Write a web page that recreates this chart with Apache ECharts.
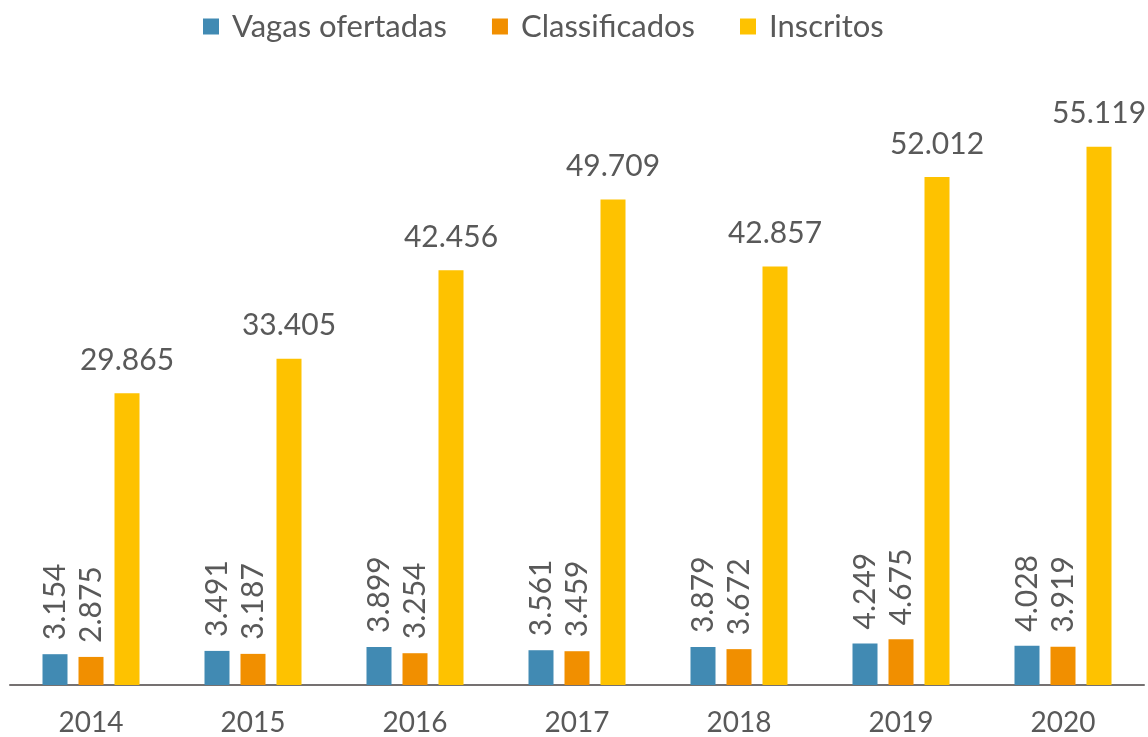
<!DOCTYPE html>
<html>
<head>
<meta charset="utf-8">
<script src="https://cdn.jsdelivr.net/npm/echarts@6/dist/echarts.min.js"></script>
<style>
  html, body { margin: 0; padding: 0; background: #fff; }
  #chart { width: 1148px; height: 737px; }
</style>
</head>
<body>
<div id="chart"></div>
<script>
var anos = ['2014', '2015', '2016', '2017', '2018', '2019', '2020'];
var vagas = [3154, 3491, 3899, 3561, 3879, 4249, 4028];
var classificados = [2875, 3187, 3254, 3459, 3672, 4675, 3919];
var inscritos = [29865, 33405, 42456, 49709, 42857, 52012, 55119];

var fonte = 'Lato, "DejaVu Sans", sans-serif';
var cinza = '#595959';

// formata 3154 -> 3.154
var fmt = function (p) {
  return String(p.value).replace(/\B(?=(\d{3})+(?!\d))/g, '.');
};

var rotLabel = {
  show: true,
  position: 'top',
  rotate: 90,
  align: 'left',
  verticalAlign: 'middle',
  distance: 14,
  color: cinza,
  fontFamily: fonte,
  fontSize: 30,
  formatter: fmt
};

var myChart = echarts.init(document.getElementById('chart'));
var option = {
  animation: false,
  textStyle: { fontFamily: fonte },
  legend: {
    top: 6,
    left: 198,
    itemWidth: 16,
    itemHeight: 16,
    itemGap: 45,
    icon: 'rect',
    textStyle: { color: cinza, fontSize: 31, fontFamily: fonte, padding: [0, 0, 0, 8] },
    data: ['Vagas ofertadas', 'Classificados', 'Inscritos']
  },
  grid: { left: 10, right: 4, top: 99, bottom: 51, containLabel: false },
  xAxis: {
    type: 'category',
    data: anos,
    axisLine: { lineStyle: { color: '#757171', width: 2 } },
    axisTick: { show: false },
    axisLabel: { color: cinza, fontSize: 28, fontFamily: fonte, margin: 24 }
  },
  yAxis: {
    type: 'value',
    min: 0,
    max: 60000,
    show: false,
    splitLine: { show: false }
  },
  series: [
    {
      name: 'Vagas ofertadas',
      type: 'bar',
      data: vagas,
      barWidth: 25,
      barGap: '44%',
      itemStyle: { color: '#418AB3' },
      label: rotLabel
    },
    {
      name: 'Classificados',
      type: 'bar',
      data: classificados,
      barWidth: 25,
      barGap: '44%',
      itemStyle: { color: '#F18F00' },
      label: rotLabel
    },
    {
      name: 'Inscritos',
      type: 'bar',
      data: inscritos,
      barWidth: 25,
      barGap: '44%',
      itemStyle: { color: '#FEC200' },
      label: {
        show: true,
        position: 'top',
        distance: 18,
        color: cinza,
        fontFamily: fonte,
        fontSize: 30,
        formatter: fmt
      }
    }
  ]
};
myChart.setOption(option);
</script>
</body>
</html>
